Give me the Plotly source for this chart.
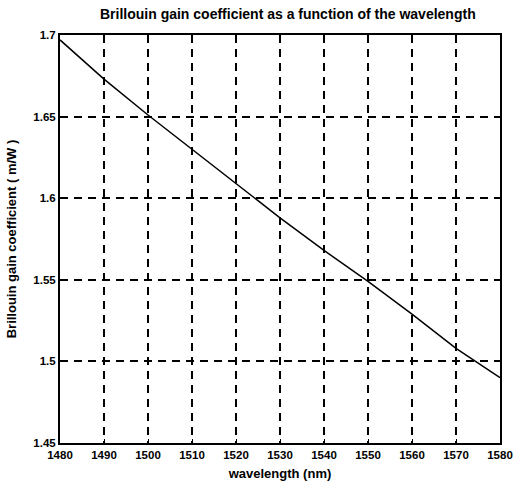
import plotly.graph_objects as go

wavelength_nm = [1480, 1490, 1500, 1510, 1520, 1530, 1540, 1550, 1560, 1570, 1580]
gain_coeff = [1.697, 1.673, 1.651, 1.630, 1.609, 1.588, 1.568, 1.549, 1.529, 1.508, 1.490]

x_ticks = [1480, 1490, 1500, 1510, 1520, 1530, 1540, 1550, 1560, 1570, 1580]
y_ticks = [1.45, 1.5, 1.55, 1.6, 1.65, 1.7]
y_tick_labels = ["1.45", "1.5", "1.55", "1.6", "1.65", "1.7"]

font_family = "Liberation Sans, Arial, sans-serif"

fig = go.Figure()
fig.add_trace(go.Scatter(x=wavelength_nm, y=gain_coeff, mode="lines",
                         line=dict(color="black", width=1.5), showlegend=False))

fig.update_layout(
    width=514, height=492,
    margin=dict(l=60, r=14, t=35, b=49, autoexpand=False),
    paper_bgcolor="white", plot_bgcolor="white",
    title=dict(text="<b>Brillouin gain coefficient as a function of the wavelength</b>",
               x=0.56, xanchor="center", y=0.972, yanchor="middle",
               font=dict(family=font_family, size=14, color="black")),
    font=dict(family=font_family, color="black"),
)
fig.update_xaxes(
    range=[1480, 1580], tickvals=x_ticks, ticktext=[f"<b>{v}</b>" for v in x_ticks],
    tickfont=dict(size=11.5), showgrid=True, gridcolor="black", griddash="8px,6px", gridwidth=1.5,
    showline=True, linecolor="black", linewidth=2, mirror=True, automargin=False,
    ticks="inside", ticklen=4, tickcolor="black", zeroline=False,
    title=dict(text="<b>wavelength (nm)</b>", font=dict(size=13), standoff=9),
)
fig.update_yaxes(
    range=[1.45, 1.7], tickvals=y_ticks, ticktext=[f"<b>{t}</b>" for t in y_tick_labels],
    tickfont=dict(size=11.5), showgrid=True, gridcolor="black", griddash="8px,6px", gridwidth=1.5,
    showline=True, linecolor="black", linewidth=2, mirror=True, automargin=False,
    ticks="inside", ticklen=4, tickcolor="black", zeroline=False,
    title=dict(text="<b>Brillouin gain coefficient ( m/W )</b>", font=dict(size=13), standoff=14),
)

fig.write_html("out.html", config={"displayModeBar": False},
               post_script="document.body.style.margin='0px';")
